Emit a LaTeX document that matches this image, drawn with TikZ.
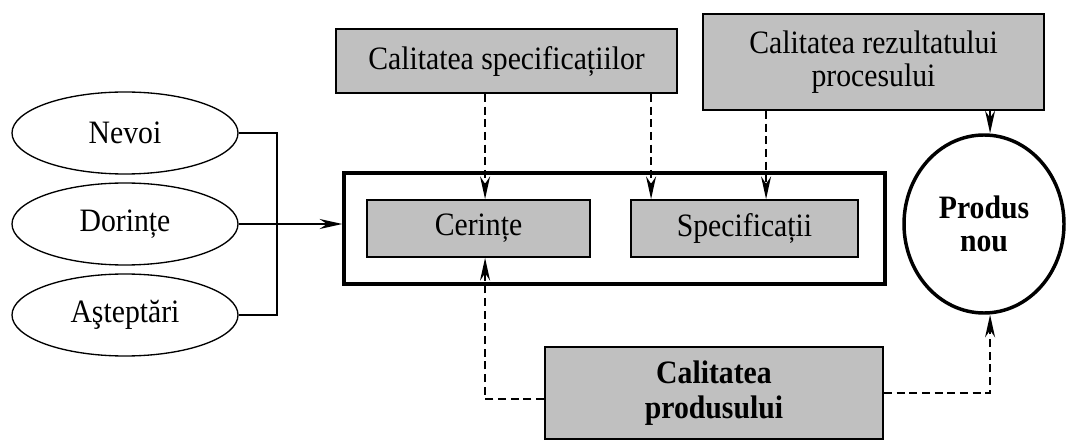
\documentclass[tikz,border=0pt]{standalone}
\usepackage{fontspec}
\setmainfont{Liberation Serif}[FakeStretch=0.91]
\usetikzlibrary{arrows.meta,shapes.geometric,calc}
\definecolor{boxgray}{RGB}{192,192,192}
\begin{document}
\begin{tikzpicture}[x=0.75pt,y=-0.75pt,
  txt/.style={font=\fontsize{24.5}{25}\selectfont, align=center, inner sep=0pt},
  wh/.style 2 args={minimum width=#1*0.75pt, minimum height=#2*0.75pt},
  gbox/.style={txt, draw=black, line width=1.4pt, fill=boxgray, rectangle},
  oval/.style={txt, draw=black, line width=1pt, ellipse, wh={226}{82}},
  tip/.style={-{Stealth[length=17pt,width=7.5pt,inset=5.5pt]}},
  darr/.style={tip, dash pattern=on 6pt off 3.5pt, line width=1.3pt},
  sarr/.style={tip, line width=1.3pt},
]
\useasboundingbox (0,0) rectangle (1066,441);

% ellipses
\node[oval] (nev) at (125,133) {Nevoi};
\node[oval] (dor) at (125,224) {Dorințe};
\node[oval] (ast) at (125,315) {Aşteptări};

% top boxes
\node[gbox, wh={341}{64}] (specq) at (506.5,61) {Calitatea specificațiilor};
\node[gbox, wh={341}{96}] (procq) at (873.5,62) {Calitatea rezultatului\\procesului};

% middle
\node[draw=black, line width=2.5pt, rectangle, wh={541}{111}] (outer) at (614.5,228.5) {};
\node[gbox, wh={223}{57}] (cer) at (478.5,228.5) {Cerințe};
\node[gbox, wh={227}{57}] (spec) at (744.5,228.5) {Specificații};

% product circle
\node[txt, draw=black, line width=2.6pt, ellipse, wh={160}{178}, font=\fontsize{24.5}{25}\selectfont\bfseries] (prod) at (984,224) {Produs\\nou};

% bottom box
\node[gbox, wh={338}{92}, font=\fontsize{24.5}{26}\selectfont\bfseries] (prodq) at (714,393) {Calitatea\\produsului};

% bracket and input arrow
\draw[line width=1.5pt] (nev.east) -- ++(38,0) |- (ast.east);
\draw[sarr] (dor.east) -- (dor.east -| outer.west);

% dashed connectors
\coordinate (d1) at ($(specq.south west)+(150,0)$);
\coordinate (d2) at ($(specq.south west)+(316,0)$);
\coordinate (d3) at ($(procq.south west)+(64,0)$);
\coordinate (d4) at ($(procq.south west)+(288,0)$);
\coordinate (d5) at ($(prodq.west)+(0,6)$);
\draw[darr] (d1) -- (d1 |- cer.north);
\draw[darr] (d2) -- (d2 |- spec.north);
\draw[darr] (d3) -- (d3 |- spec.north);
\draw[sarr] (d4) -- (d4 |- prod.north);
\draw[darr] (d5) -| (d1 |- cer.south);
\draw[darr] (prodq.east) -| (d4 |- prod.south);
\end{tikzpicture}
\end{document}
